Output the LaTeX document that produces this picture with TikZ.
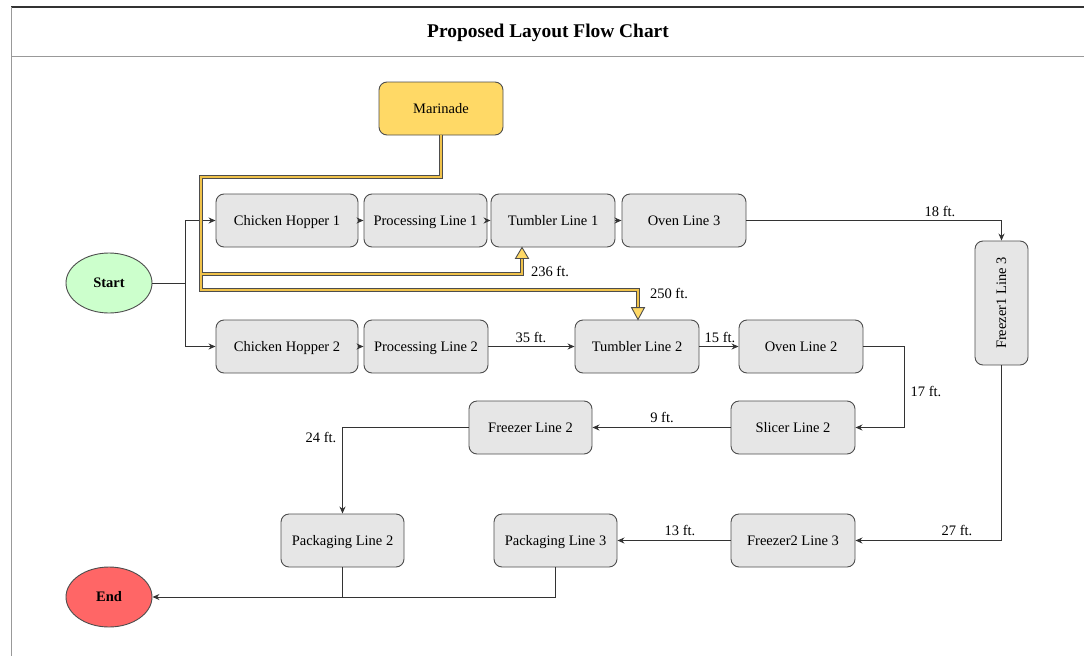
\documentclass[tikz,border=0pt]{standalone}
\usepackage{fontspec}
\setmainfont{Liberation Serif}
\usetikzlibrary{arrows.meta,shapes.geometric,calc}
\definecolor{boxfill}{HTML}{E6E6E6}
\definecolor{boxline}{HTML}{4D4D4D}
\definecolor{marfill}{HTML}{FFD966}
\definecolor{marcore}{HTML}{F0C24A}
\definecolor{startfill}{HTML}{CCFFCC}
\definecolor{endfill}{HTML}{FF6666}
\definecolor{wire}{HTML}{333333}
\begin{document}
\begin{tikzpicture}[x=1pt,y=-1pt,
  every node/.style={font=\fontsize{14.5}{17}\selectfont},
  stepbox/.style={draw=boxline,fill=boxfill,rounded corners=8pt,line width=0.9pt,
    minimum width=124pt,minimum height=53pt,inner sep=2pt,text height=10pt,text depth=0pt},
  term/.style={ellipse,draw=boxline,line width=0.9pt,minimum width=86pt,minimum height=60pt,
    font=\fontsize{14.5}{17}\selectfont\bfseries},
  wireline/.style={draw=wire,line width=1pt},
  arr/.style={wireline,-{Stealth[length=7pt,width=6pt]}},
  lbl/.style={inner sep=0pt},
  mouter/.style={draw=boxline,line width=4.2pt},
  minner/.style={draw=marcore,line width=2pt},
  mhead/.style={draw=boxline,fill=marfill,line width=0.9pt,line join=miter}]

\useasboundingbox (0,0) rectangle (1084,656);

% frame and title bar
\draw[draw=wire,line width=1.3pt] (11,7) -- (1084,7);
\draw[draw=black!40,line width=1pt] (11,56) -- (1084,56);
\draw[draw=black!40,line width=1pt] (11,7) -- (11,656);
\node[font=\fontsize{19.4}{22}\selectfont\bfseries] (title) at (548,33) {Proposed Layout Flow Chart};

% process steps
\node[stepbox,fill=marfill] (mar) at (441,108.5) {Marinade};
\node[stepbox,minimum width=142pt] (ch1) at (287,220.5) {Chicken Hopper 1};
\node[stepbox,minimum width=123pt] (pl1) at (425.5,220.5) {Processing Line 1};
\node[stepbox] (tl1) at (553,220.5) {Tumbler Line 1};
\node[stepbox] (ol3) at (684,220.5) {Oven Line 3};
\node[stepbox,minimum width=53pt,minimum height=124pt,text height=,text depth=] (fz1) at (1001.5,303)
  {\rotatebox{90}{\raisebox{-1pt}{Freezer1 Line 3}}};
\node[term,fill=startfill] (start) at (109,283) {Start};
\node[stepbox,minimum width=142pt] (ch2) at (287,346.5) {Chicken Hopper 2};
\node[stepbox] (pl2) at (426,346.5) {Processing Line 2};
\node[stepbox] (tl2) at (637,346.5) {Tumbler Line 2};
\node[stepbox] (ol2) at (801,346.5) {Oven Line 2};
\node[stepbox] (sl2) at (793,427.5) {Slicer Line 2};
\node[stepbox,minimum width=123pt] (fzl2) at (530.5,427.5) {Freezer Line 2};
\node[stepbox,minimum width=123pt] (pk2) at (342.5,540.5) {Packaging Line 2};
\node[stepbox,minimum width=123pt] (pk3) at (555.5,540.5) {Packaging Line 3};
\node[stepbox] (fz3) at (793,540.5) {Freezer2 Line 3};
\node[term,fill=endfill] (endn) at (109,597) {End};

% start split
\coordinate (split) at (185,283);
\draw[wireline] (start.east) -- (split);
\draw[arr] (split) |- (ch1.west);
\draw[arr] (split) |- (ch2.west);

% line 1 / line 3
\draw[arr] (ch1) -- (pl1);
\draw[arr] (pl1) -- (tl1);
\draw[arr] (tl1) -- (ol3);
\draw[arr] (ol3.east) -| (fz1.north);
\draw[arr] (fz1.south) |- (fz3.east);
\draw[arr] (fz3) -- (pk3);
\draw[arr] (pk3.south) |- (endn.east);
\draw[wireline] (pk2.south) -- (pk2.south |- endn.east);

% line 2
\draw[arr] (ch2) -- (pl2);
\draw[arr] (pl2) -- (tl2);
\draw[arr] (tl2) -- (ol2);
\draw[arr] (ol2.east) -- ++(41,0) |- (sl2.east);
\draw[arr] (sl2) -- (fzl2);
\draw[arr] (fzl2.west) -| (pk2.north);

% distances
\node[lbl] (d18) at (940,211) {18 ft.};
\node[lbl] (d27) at (957,530) {27 ft.};
\node[lbl] (d13) at (680,530) {13 ft.};
\node[lbl] (d17) at (926,391) {17 ft.};
\node[lbl] (d9) at (662,417) {9 ft.};
\node[lbl] (d24) at (321,437) {24 ft.};
\node[lbl] (d35) at (531,337) {35 ft.};
\node[lbl] (d15) at (720,337) {15 ft.};
\node[lbl] (d236) at (550,271) {236 ft.};
\node[lbl] (d250) at (669,293) {250 ft.};

% marinade feed pipes
\coordinate (mj) at (201,177);
\coordinate (ma) at (201,274);
\coordinate (mb) at (201,290);
\coordinate (tipA) at ($(tl1.south)+(-31,0)$);
\coordinate (tipB) at ($(tl2.north)+(1,0)$);
\foreach \sty in {mouter,minner}{
  \draw[\sty,line join=miter] (mar.south) |- (mj) -- (ma) -| ($(tipA)+(0,10)$);
  \draw[\sty,line join=miter] (mj) -- (mb) -| ($(tipB)+(0,-11)$);
}
\draw[mhead] (tipA) -- ++(-6.5,11) -- ++(13,0) -- cycle;
\draw[mhead] (tipB) -- ++(-6.5,-12) -- ++(13,0) -- cycle;
\end{tikzpicture}
\end{document}
